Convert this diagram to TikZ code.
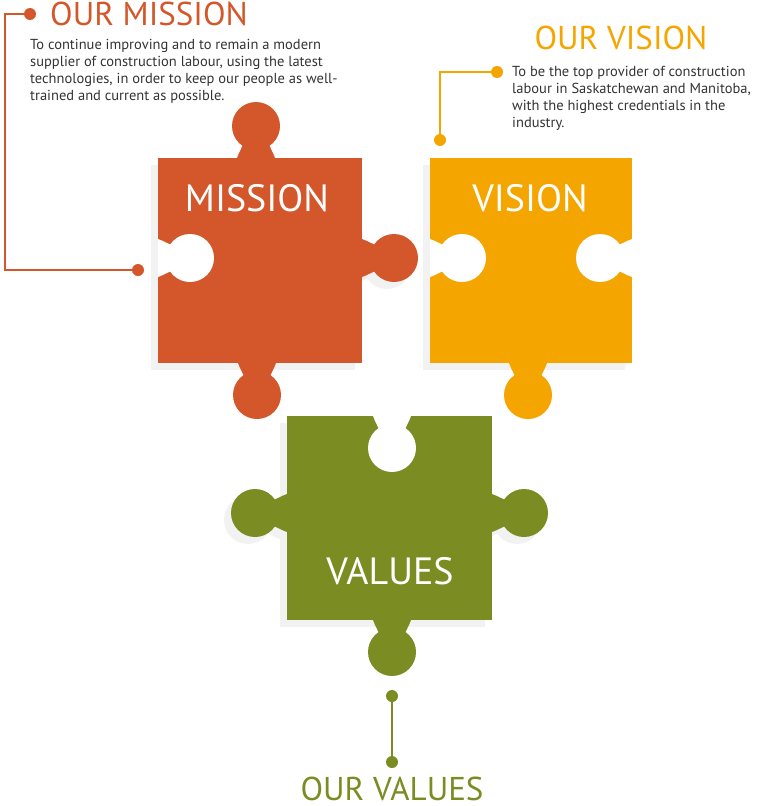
\documentclass[tikz,border=0pt]{standalone}
\usepackage{fontspec}
\setmainfont{PT Sans}
\usetikzlibrary{positioning}
\definecolor{missionc}{HTML}{D4572B}
\definecolor{visionc}{HTML}{F5A500}
\definecolor{valuesc}{HTML}{7A8C22}
\definecolor{textc}{HTML}{333333}
% one knob, edge at the origin, pointing along +x
\newcommand{\knob}[4]{%
  \fill[#1,shift={(#2,#3)},rotate=#4] (0,-19) .. controls (6,-17) and (12,-13) .. (14,-13) -- (14,13) .. controls (12,13) and (6,17) .. (0,19) -- cycle;
  \fill[#1,shift={(#2,#3)},rotate=#4] (32,0) circle (24);}
\tikzset{
  dot/.style={circle,inner sep=0pt,minimum size=12pt},
  link/.style={line width=2pt},
  head/.style={font=\fontsize{33}{33}\selectfont,inner sep=0pt},
  blurb/.style={font=\fontsize{14.5}{17}\selectfont,text=textc,align=left,inner sep=0pt,anchor=north west},
  label/.style={font=\fontsize{38}{38}\selectfont,text=white,inner sep=0pt},
  shade/.style={black!5}
}
\begin{document}
\begin{tikzpicture}[x=1pt,y=-1pt]
      \useasboundingbox (0,0) rectangle (756,806);

      % shadows
      \begin{scope}[shift={(-7,7)}]
        \fill[shade] (158,158) rectangle (362,363);
        \knob{shade}{362}{258}{0}
        \fill[shade] (430,158) rectangle (632,363);
        \fill[shade] (287,416) rectangle (492,620);
        \knob{shade}{287}{513}{180}
        \knob{shade}{492}{513}{0}
      \end{scope}

      % mission piece
      \fill[missionc] (158,158) rectangle (362,363);
      \knob{missionc}{256}{158}{90}
      \knob{missionc}{362}{258}{0}
      \knob{missionc}{257}{363}{270}
      \knob{white}{158}{258}{0}

      % vision piece
      \fill[visionc] (430,158) rectangle (632,363);
      \knob{visionc}{528}{363}{270}
      \knob{white}{430}{258}{0}
      \knob{white}{632}{258}{180}

      % values piece
      \fill[valuesc] (287,416) rectangle (492,620);
      \knob{valuesc}{287}{513}{180}
      \knob{valuesc}{492}{513}{0}
      \knob{valuesc}{392}{620}{270}
      \knob{white}{392}{416}{270}

      \node[label] (lmission) at (257,198) {MISSION};
      \node[label] (lvision) at (530,198) {VISION};
      \node[label] (lvalues) at (390,571) {VALUES};

      % mission callout
      \node[dot,fill=missionc] (m1) at (30,14) {};
      \node[dot,fill=missionc] (m2) at (138,270) {};
      \coordinate (mc1) at (5,14);
      \coordinate (mc2) at (5,270);
      \draw[link,missionc] (m1) -- (mc1) -- (mc2) -- (m2);
      \node[head,text=missionc,anchor=west] (hmission) at (50,14) {OUR MISSION};
      \node[blurb] (tmission) at (30,39) {To continue improving and to remain a modern\\
        supplier of construction labour, using the latest\\
        technologies, in order to keep our people as well-\\
        trained and current as possible.};

      % vision callout
      \node[dot,fill=visionc] (v1) at (497,72) {};
      \node[dot,fill=visionc] (v2) at (440,140) {};
      \coordinate (vc1) at (440,72);
      \draw[link,visionc] (v1) -- (vc1) -- (v2);
      \node[head,text=visionc] (hvision) at (621,38) {OUR VISION};
      \node[blurb] (tvision) at (512,66) {To be the top provider of construction\\
        labour in Saskatchewan and Manitoba,\\
        with the highest credentials in the\\
        industry.};

      % values callout
      \node[dot,fill=valuesc] (u1) at (392,696) {};
      \node[dot,fill=valuesc] (u2) at (392,762) {};
      \draw[link,valuesc] (u1) -- (u2);
      \node[head,text=valuesc,anchor=base] (hvalues) at (392,800) {OUR VALUES};
\end{tikzpicture}
\end{document}
